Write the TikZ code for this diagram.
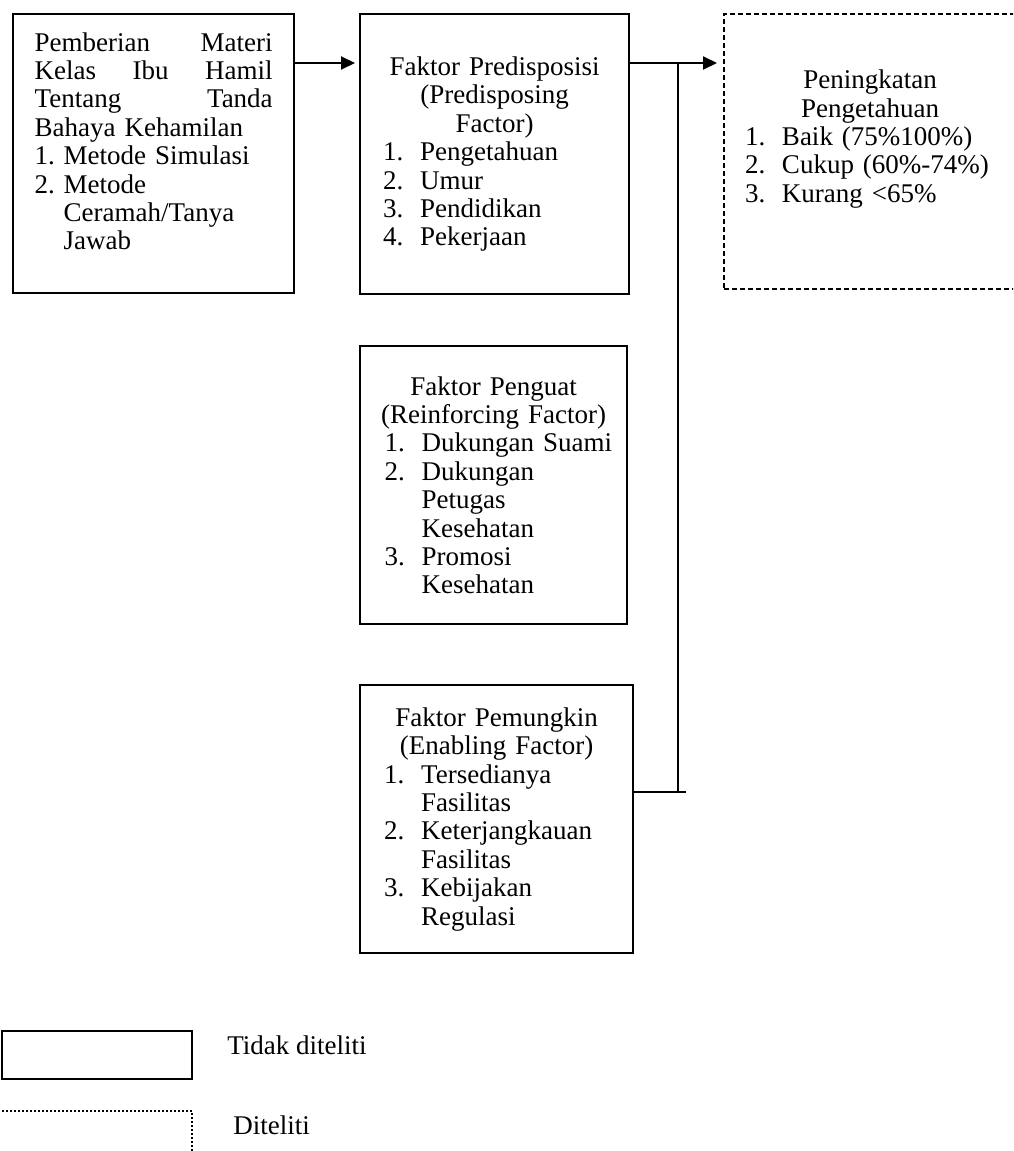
\documentclass[tikz,border=0pt]{standalone}
\usepackage{fontspec}
\setmainfont{Liberation Serif}
\usetikzlibrary{arrows.meta}

\newlength\itemw
\newcommand\hdr[1]{\makebox[\hsize]{#1}\par}
\newcommand\itm[2]{\makebox[\itemw][l]{#1}\mbox{#2}\par}
\newcommand\cnt[1]{\leavevmode\hspace*{\itemw}\mbox{#1}\par}
\newcommand\lift[1]{\vspace{#1}\hrule height 0pt width 0pt}

\begin{document}
\begin{tikzpicture}[x=0.5pt, y=-0.5pt,
    box/.style={draw=black, line width=1.2pt, anchor=north west, inner sep=0pt,
        font=\fontsize{13.5}{14.2}\selectfont,
        execute at begin node={\parindent=0pt\hyphenpenalty=10000\itemw=#1}},
    box/.default=18.5pt,
    result/.style={box, line width=1pt, dash pattern=on 2.5pt off 1.5pt},
    lbl/.style={anchor=west, inner sep=0pt, font=\fontsize{13.5}{14.2}\selectfont},
    arr/.style={line width=1pt, -{Triangle[length=7pt,width=6.5pt]}},
    link/.style={line width=0.6pt}
]
    \useasboundingbox (0,0) rectangle (1013,1151);
    \clip (0,0) rectangle (1013,1151);

    % boxes
    \node[box=14.5pt, minimum width=140.5pt, minimum height=139.5pt, text width=119pt] (materi) at (12,13) {%
        Pemberian\hfill Materi\par
        Kelas\hfill Ibu\hfill Hamil\par
        Tentang\hfill Tanda\par
        Bahaya Kehamilan\par
        \itm{1.}{Metode Simulasi}
        \itm{2.}{Metode}
        \cnt{Ceramah/Tanya}
        \cnt{Jawab}
        \lift{12.5pt}};
    \node[box, minimum width=134.5pt, minimum height=140pt, text width=111.5pt] (predis) at (359,13) {%
        \hdr{Faktor Predisposisi}
        \hdr{(Predisposing}
        \hdr{Factor)}
        \itm{1.}{Pengetahuan}
        \itm{2.}{Umur}
        \itm{3.}{Pendidikan}
        \itm{4.}{Pekerjaan}};
    \node[box, minimum width=133.5pt, minimum height=139pt, text width=109pt] (penguat) at (359,345) {%
        \hdr{Faktor Penguat}
        \hdr{(Reinforcing Factor)}
        \itm{1.}{Dukungan Suami}
        \itm{2.}{Dukungan}
        \cnt{Petugas}
        \cnt{Kesehatan}
        \itm{3.}{Promosi}
        \cnt{Kesehatan}};
    \node[box, minimum width=136.5pt, minimum height=134pt, text width=112.5pt] (pemungkin) at (359,684) {%
        \hdr{Faktor Pemungkin}
        \hdr{(Enabling Factor)}
        \itm{1.}{Tersedianya}
        \cnt{Fasilitas}
        \itm{2.}{Keterjangkauan}
        \cnt{Fasilitas}
        \itm{3.}{Kebijakan}
        \cnt{Regulasi}};
    \node[result, minimum width=146pt, minimum height=137.5pt, text width=125pt] (hasil) at (723,13) {%
        \hdr{Peningkatan}
        \hdr{Pengetahuan}
        \itm{1.}{Baik (75\%100\%)}
        \itm{2.}{Cukup (60\%-74\%)}
        \itm{3.}{Kurang <65\%}
        \lift{12.5pt}};

    % legend
    \node[box, minimum width=95pt, minimum height=24pt] (keysolid) at (1,1030) {};
    \node[lbl] (keysolidtext) at (227,1045) {Tidak diteliti};
    \node[box, line width=0.9pt, dash pattern=on 1pt off 1pt, minimum width=98pt, minimum height=30pt] (keydot) at (-5,1110) {};
    \node[lbl] (keydottext) at (233,1125) {Diteliti};

    % connectors
    \draw[arr, shorten >=2pt] ([yshift=-25pt]materi.north east) -- ([yshift=-25pt]predis.north west);
    \draw[arr, shorten >=3pt] ([yshift=-25pt]predis.north east) -- ([yshift=-25pt]hasil.north west);
    \coordinate (split) at (678,63);
    \coordinate (joint) at ([yshift=-54pt]pemungkin.north east);
    \draw[link] (split) -- (split |- joint);
    \draw[link] (joint) -- ([xshift=26pt]joint);
\end{tikzpicture}
\end{document}
